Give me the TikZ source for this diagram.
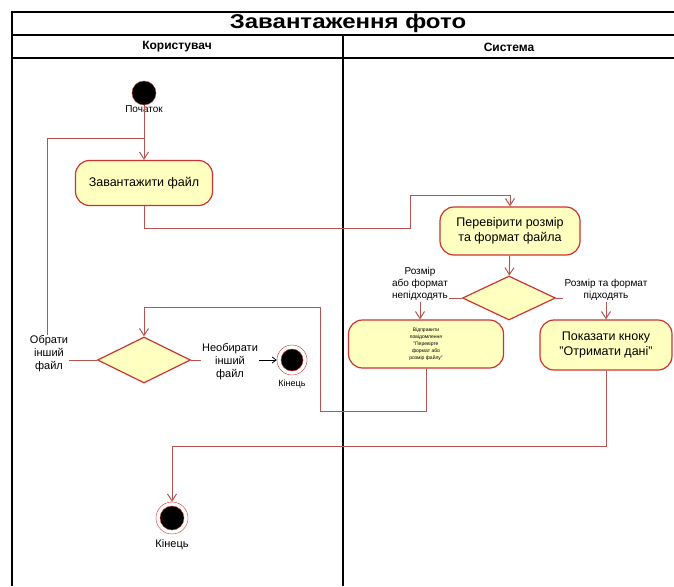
\documentclass[tikz,border=0pt]{standalone}
\usepackage{fontspec}
\setmainfont{Liberation Sans}
\usetikzlibrary{arrows.meta,shapes.geometric}

\definecolor{actfill}{HTML}{FFFFC0}
\definecolor{actline}{HTML}{CC3333}
\definecolor{flowline}{HTML}{B85450}

\tikzset{
    action/.style={draw=actline, fill=actfill, line width=1.2pt, rounded corners=14pt, align=center, inner sep=2pt, font=\fontsize{12.5}{15}\selectfont},
    decision/.style={draw=actline, fill=actfill, line width=1.2pt, diamond, inner sep=0pt},
    flow/.style={draw=flowline, line width=1pt, -{Straight Barb[length=7pt,width=9pt]}},
    flowplain/.style={draw=flowline, line width=1pt},
    guard/.style={align=center, inner sep=1pt, font=\fontsize{10}{12}\selectfont},
}

\begin{document}
\begin{tikzpicture}[x=1pt, y=-1pt]
        \useasboundingbox (0,0) rectangle (674,586);

        % Pool and lanes
        \begin{scope}[line width=1.4pt]
            \draw (674,12) -- (12,12) -- (12,586);
            \draw (12,35) -- (674,35);
            \draw (12,58) -- (674,58);
            \draw (343,35) -- (343,586);
            \node[font=\bfseries\fontsize{20}{22}\selectfont, inner sep=0pt] (title) at (348,23.5) {\scalebox{1.2}[1]{Завантаження фото}};
            \node[font=\bfseries\fontsize{12}{13}\selectfont] (laneUser) at (177,47) {Користувач};
            \node[font=\bfseries\fontsize{12}{13}\selectfont] (laneSys) at (509,47) {Система};
        \end{scope}

        % User lane
        \node[circle, fill=black, draw=actline, minimum size=24pt, inner sep=0pt] (start) at (144,93) {};
        \node[font=\fontsize{10}{12}\selectfont] (lblStart) at (144,109) {Початок};
        \node[action, minimum width=137pt, minimum height=45pt] (upload) at (144,183) {Завантажити файл};
        \node[decision, minimum width=93pt, minimum height=46pt] (retrydec) at (144,360) {};
        \node[guard, font=\fontsize{11}{13}\selectfont] (lblRetry) at (49,354) {Обрати\\інший\\файл};
        \node[guard, font=\fontsize{11}{13}\selectfont] (lblNoRetry) at (230,362) {Необирати\\інший\\файл};
        \node[circle, draw=actline, fill=white, minimum size=30pt, inner sep=0pt] (endA) at (292,360) {};
        \node[circle, fill=black, draw=actline, minimum size=22pt, inner sep=0pt] at (endA) {};
        \node[font=\fontsize{9}{11}\selectfont] (lblEndA) at (292,384) {Кінець};
        \node[circle, draw=actline, fill=white, minimum size=32pt, inner sep=0pt] (endB) at (172,518) {};
        \node[circle, fill=black, draw=actline, minimum size=24pt, inner sep=0pt] at (endB) {};
        \node[font=\fontsize{11}{13}\selectfont] (lblEndB) at (172,545) {Кінець};

        % System lane
        \node[action, minimum width=140pt, minimum height=48pt] (check) at (510,231) {Перевірити розмір\\та формат файла};
        \node[decision, minimum width=93pt, minimum height=44pt] (checkdec) at (509,298) {};
        \node[guard] (lblBad) at (420,284) {Розмір\\або формат\\непідходять};
        \node[guard] (lblGood) at (606,290) {Розмір та формат\\підходять};
        \node[action, minimum width=155pt, minimum height=48pt, font=\fontsize{5}{7}\selectfont] (sendmsg) at (426,344) {Відправити\\повідомлення\\"Перевірте\\формат або\\розмір файлу"};
        \node[action, minimum width=132pt, minimum height=50pt] (showbtn) at (606,345) {Показати кноку\\"Отримати дані"};

        % Bends
        \coordinate (u1) at (410,228);
        \coordinate (u2) at (410,195);
        \coordinate (join) at (144,138);
        \coordinate (s1) at (320,411);
        \coordinate (s2) at (320,307);
        \coordinate (p1) at (172,446);

        % Flows
        \draw[flow] (start) -- (upload);
        \draw[flow] (upload.south) |- (u1) -- (u2) -| (check.north);
        \draw[flow] (check) -- (checkdec);
        \draw[flowplain] (checkdec.west) -- (checkdec.west -| lblBad.east);
        \draw[flow] (lblBad.south) -- (lblBad.south |- sendmsg.north);
        \draw[flowplain] (checkdec.east) -- (checkdec.east -| lblGood.west);
        \draw[flow] (lblGood.south) -- (lblGood.south |- showbtn.north);
        \draw[flow] (sendmsg.south) |- (s1) -- (s2) -| (retrydec.north);
        \draw[flowplain] (retrydec.west) -- (retrydec.west -| lblRetry.east);
        \draw[flowplain] (lblRetry.north -| 47,0) -- (join -| 47,0) -- (join);
        \draw[flowplain] (retrydec.east) -- (retrydec.east -| lblNoRetry.west);
        \draw[-{Straight Barb[length=4pt,width=6pt]}, thick] (lblNoRetry.east |- endA) -- (endA);
        \draw[flow] (showbtn.south) |- (p1) -- (endB);
    \end{tikzpicture}
\end{document}
